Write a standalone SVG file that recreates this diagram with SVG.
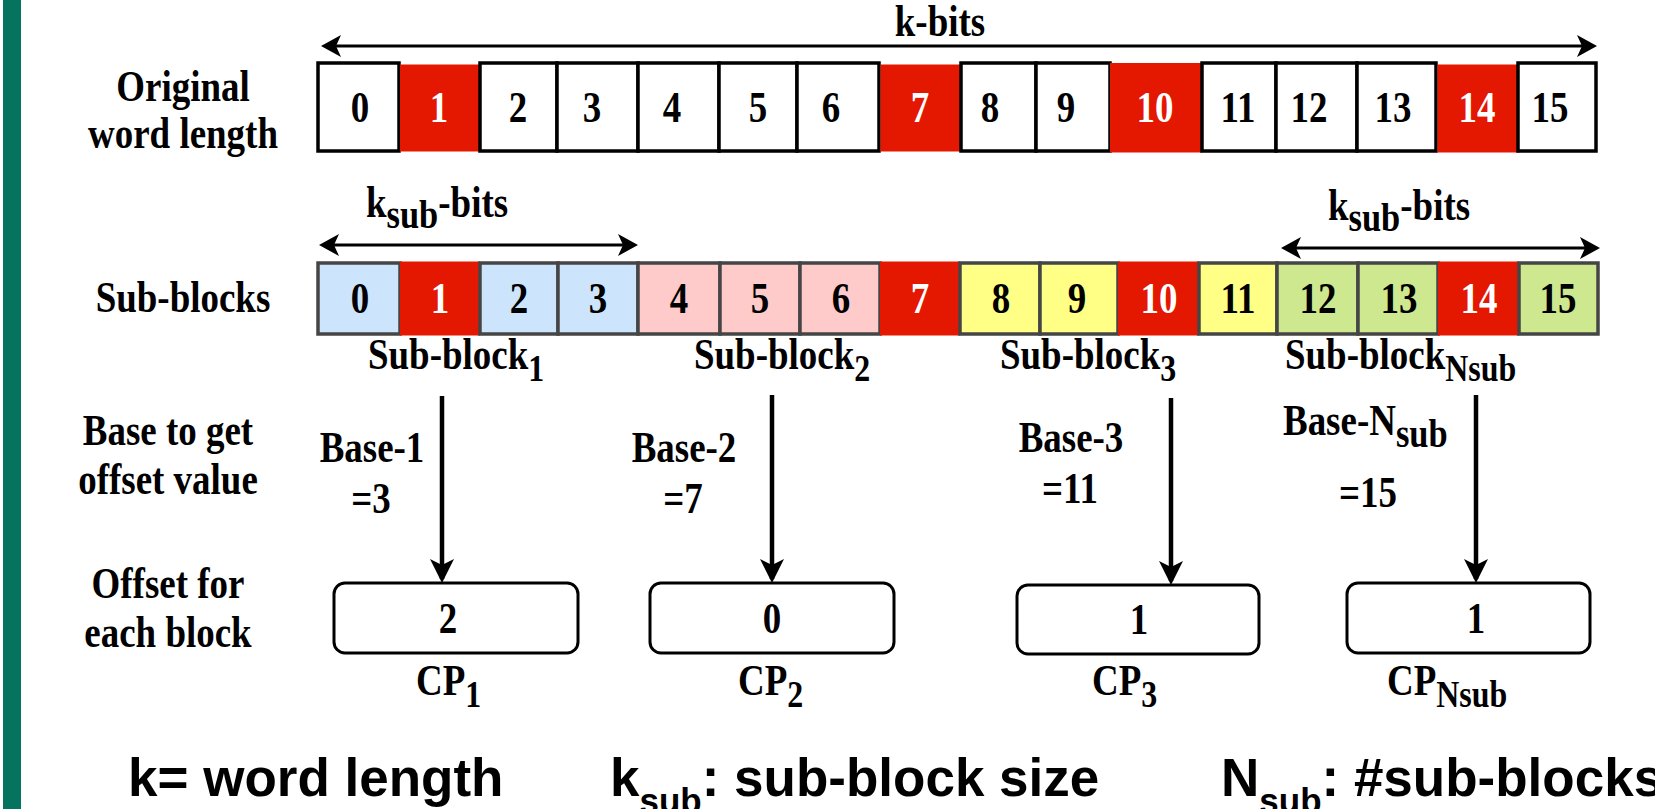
<svg xmlns="http://www.w3.org/2000/svg" width="1655" height="809" viewBox="0 0 1655 809">
  <style>
    .s { font-family: "Liberation Serif", "Times New Roman", serif; font-weight: bold; font-size: 44px; fill: #000; text-anchor: middle; }
    .l { text-anchor: start; }
    .w { fill: #fff; }
    .sub { font-size: 38px; }
    .subl { font-size: 41px; }
    .lg { font-family: "Liberation Sans", Arial, sans-serif; font-weight: bold; font-size: 53px; fill: #000; }
    .lgs { font-size: 35px; }
    .wc { fill: #fff; stroke: #000; stroke-width: 3.5; }
    .red { fill: #e41700; }
    .sc { stroke: #454545; stroke-width: 3.5; }
    .blue { fill: #cce4fc; }
    .pink { fill: #ffcaca; }
    .yel { fill: #ffff85; }
    .grn { fill: #cde88e; }
    .cp { fill: #fff; stroke: #000; stroke-width: 3; }
    .h { stroke: #000; stroke-width: 3; fill: none; }
    .v { stroke: #000; stroke-width: 4.5; fill: none; }
  </style>
  <defs>
    <marker id="ah" viewBox="0 0 20 22" refX="16" refY="11" markerWidth="20" markerHeight="22" markerUnits="userSpaceOnUse" orient="auto-start-reverse">
      <path d="M0,0 L20,11 L0,22 L5,11 Z" fill="#000"/>
    </marker>
    <marker id="av" viewBox="0 0 24 24" refX="20" refY="12" markerWidth="24" markerHeight="24" markerUnits="userSpaceOnUse" orient="auto">
      <path d="M0,0 L24,12 L0,24 L6,12 Z" fill="#000"/>
    </marker>
  </defs>

  <rect width="1655" height="809" fill="#fff"/>
  <!-- side bar -->
  <rect x="3" y="0" width="18" height="809" fill="#06735e"/>

  <!-- row labels -->
  <g id="row-labels">
    <text class="s" transform="translate(183 101) scale(.84 1)">Original</text>
    <text class="s" transform="translate(183 148) scale(.84 1)">word length</text>
    <text class="s" transform="translate(183 312) scale(.84 1)">Sub-blocks</text>
    <text class="s" transform="translate(168 445) scale(.84 1)">Base to get</text>
    <text class="s" transform="translate(168 494) scale(.84 1)">offset value</text>
    <text class="s" transform="translate(168 598) scale(.84 1)">Offset for</text>
    <text class="s" transform="translate(168 647) scale(.84 1)">each block</text>
  </g>

  <!-- original word: 16 bits -->
  <g id="word">
    <g id="w0"><rect class="wc" x="318" y="63" width="81" height="88"/><text class="s" transform="translate(360 122) scale(.84 1)">0</text></g>
    <g id="w1"><rect class="red" x="400" y="64.5" width="81.5" height="87"/><text class="s w" transform="translate(439 122) scale(.84 1)">1</text></g>
    <g id="w2"><rect class="wc" x="480" y="63" width="77" height="88"/><text class="s" transform="translate(518 122) scale(.84 1)">2</text></g>
    <g id="w3"><rect class="wc" x="557" y="63" width="81" height="88"/><text class="s" transform="translate(592 122) scale(.84 1)">3</text></g>
    <g id="w4"><rect class="wc" x="638" y="63" width="81" height="88"/><text class="s" transform="translate(672 122) scale(.84 1)">4</text></g>
    <g id="w5"><rect class="wc" x="719" y="63" width="78" height="88"/><text class="s" transform="translate(758 122) scale(.84 1)">5</text></g>
    <g id="w6"><rect class="wc" x="797" y="63" width="82" height="88"/><text class="s" transform="translate(831 122) scale(.84 1)">6</text></g>
    <g id="w7"><rect class="red" x="880.5" y="64.5" width="82" height="87"/><text class="s w" transform="translate(920 122) scale(.84 1)">7</text></g>
    <g id="w8"><rect class="wc" x="961" y="63" width="75" height="88"/><text class="s" transform="translate(990 122) scale(.84 1)">8</text></g>
    <g id="w9"><rect class="wc" x="1036" y="63" width="74" height="88"/><text class="s" transform="translate(1066 122) scale(.84 1)">9</text></g>
    <g id="w10"><rect class="red" x="1110" y="63" width="92" height="89.5"/><text class="s w" transform="translate(1155 122) scale(.84 1)">10</text></g>
    <g id="w11"><rect class="wc" x="1202" y="63" width="74" height="88"/><text class="s" transform="translate(1238 122) scale(.84 1)">11</text></g>
    <g id="w12"><rect class="wc" x="1276" y="63" width="81" height="88"/><text class="s" transform="translate(1309 122) scale(.84 1)">12</text></g>
    <g id="w13"><rect class="wc" x="1357" y="63" width="79" height="88"/><text class="s" transform="translate(1393 122) scale(.84 1)">13</text></g>
    <g id="w14"><rect class="red" x="1437.5" y="64.5" width="82" height="88"/><text class="s w" transform="translate(1477 122) scale(.84 1)">14</text></g>
    <g id="w15"><rect class="wc" x="1518" y="63" width="78" height="88"/><text class="s" transform="translate(1550 122) scale(.84 1)">15</text></g>
  </g>

  <!-- sub-blocks row -->
  <g id="subrow">
    <g id="s0"><rect class="sc blue" x="318" y="263" width="82" height="71"/><text class="s" transform="translate(360 313) scale(.84 1)">0</text></g>
    <g id="s1"><rect class="red" x="400" y="261.5" width="80" height="74"/><text class="s w" transform="translate(440 313) scale(.84 1)">1</text></g>
    <g id="s2"><rect class="sc blue" x="480" y="263" width="78" height="71"/><text class="s" transform="translate(519 313) scale(.84 1)">2</text></g>
    <g id="s3"><rect class="sc blue" x="558" y="263" width="80" height="71"/><text class="s" transform="translate(598 313) scale(.84 1)">3</text></g>
    <g id="s4"><rect class="sc pink" x="638" y="263" width="82" height="71"/><text class="s" transform="translate(679 313) scale(.84 1)">4</text></g>
    <g id="s5"><rect class="sc pink" x="720" y="263" width="80" height="71"/><text class="s" transform="translate(760 313) scale(.84 1)">5</text></g>
    <g id="s6"><rect class="sc pink" x="800" y="263" width="80" height="71"/><text class="s" transform="translate(841 313) scale(.84 1)">6</text></g>
    <g id="s7"><rect class="red" x="880" y="261.5" width="80" height="74"/><text class="s w" transform="translate(920 313) scale(.84 1)">7</text></g>
    <g id="s8"><rect class="sc yel" x="960" y="263" width="80" height="71"/><text class="s" transform="translate(1001 313) scale(.84 1)">8</text></g>
    <g id="s9"><rect class="sc yel" x="1040" y="263" width="78" height="71"/><text class="s" transform="translate(1077 313) scale(.84 1)">9</text></g>
    <g id="s10"><rect class="red" x="1118" y="261.5" width="81" height="74"/><text class="s w" transform="translate(1159 313) scale(.84 1)">10</text></g>
    <g id="s11"><rect class="sc yel" x="1199" y="263" width="78" height="71"/><text class="s" transform="translate(1238 313) scale(.84 1)">11</text></g>
    <g id="s12"><rect class="sc grn" x="1277" y="263" width="81" height="71"/><text class="s" transform="translate(1318 313) scale(.84 1)">12</text></g>
    <g id="s13"><rect class="sc grn" x="1358" y="263" width="80" height="71"/><text class="s" transform="translate(1399 313) scale(.84 1)">13</text></g>
    <g id="s14"><rect class="red" x="1438" y="261.5" width="81" height="74"/><text class="s w" transform="translate(1479 313) scale(.84 1)">14</text></g>
    <g id="s15"><rect class="sc grn" x="1519" y="263" width="79" height="71"/><text class="s" transform="translate(1558 313) scale(.84 1)">15</text></g>
  </g>

  <!-- span labels -->
  <g id="span-labels">
    <text class="s" transform="translate(940 36) scale(.84 1)">k-bits</text>
    <text class="s l" transform="translate(366 217) scale(.84 1)">k<tspan class="subl" dy="11">sub</tspan><tspan dy="-11">-bits</tspan></text>
    <text class="s l" transform="translate(1328 220) scale(.84 1)">k<tspan class="subl" dy="11">sub</tspan><tspan dy="-11">-bits</tspan></text>
  </g>

  <!-- sub-block names -->
  <g id="block-names">
    <text class="s l" transform="translate(368 369) scale(.84 1)">Sub-block<tspan class="sub" dy="12">1</tspan></text>
    <text class="s l" transform="translate(694 369) scale(.84 1)">Sub-block<tspan class="sub" dy="12">2</tspan></text>
    <text class="s l" transform="translate(1000 369) scale(.84 1)">Sub-block<tspan class="sub" dy="12">3</tspan></text>
    <text class="s l" transform="translate(1285 369) scale(.84 1)">Sub-block<tspan class="sub" dy="12">Nsub</tspan></text>
  </g>

  <!-- base labels -->
  <g id="bases">
    <text class="s" transform="translate(372 462) scale(.84 1)">Base-1</text>
    <text class="s" transform="translate(371 513) scale(.84 1)">=3</text>
    <text class="s" transform="translate(684 462) scale(.84 1)">Base-2</text>
    <text class="s" transform="translate(683 513) scale(.84 1)">=7</text>
    <text class="s" transform="translate(1071 452) scale(.84 1)">Base-3</text>
    <text class="s" transform="translate(1070 503) scale(.84 1)">=11</text>
    <text class="s l" transform="translate(1283 435) scale(.84 1)">Base-N<tspan class="subl" dy="12">sub</tspan></text>
    <text class="s" transform="translate(1368 507) scale(.84 1)">=15</text>
  </g>

  <!-- offset boxes -->
  <g id="cp1">
    <rect class="cp" x="334" y="583" width="244" height="70" rx="11"/>
    <text class="s" transform="translate(448 633) scale(.84 1)">2</text>
    <text class="s l" transform="translate(416 695) scale(.84 1)">CP<tspan class="sub" dy="12">1</tspan></text>
  </g>
  <g id="cp2">
    <rect class="cp" x="650" y="583" width="244" height="70" rx="11"/>
    <text class="s" transform="translate(772 633) scale(.84 1)">0</text>
    <text class="s l" transform="translate(738 695) scale(.84 1)">CP<tspan class="sub" dy="12">2</tspan></text>
  </g>
  <g id="cp3">
    <rect class="cp" x="1017" y="585" width="242" height="69" rx="11"/>
    <text class="s" transform="translate(1139 634) scale(.84 1)">1</text>
    <text class="s l" transform="translate(1092 695) scale(.84 1)">CP<tspan class="sub" dy="12">3</tspan></text>
  </g>
  <g id="cpN">
    <rect class="cp" x="1347" y="583" width="243" height="70" rx="11"/>
    <text class="s" transform="translate(1476 633) scale(.84 1)">1</text>
    <text class="s l" transform="translate(1387 695) scale(.84 1)">CP<tspan class="sub" dy="12">Nsub</tspan></text>
  </g>

  <!-- arrows -->
  <g id="connectors">
    <line class="h" x1="325" y1="46" x2="1593" y2="46" marker-start="url(#ah)" marker-end="url(#ah)"/>
    <line class="h" x1="323" y1="245" x2="634" y2="245" marker-start="url(#ah)" marker-end="url(#ah)"/>
    <line class="h" x1="1285" y1="248" x2="1596" y2="248" marker-start="url(#ah)" marker-end="url(#ah)"/>
    <line class="v" x1="442" y1="396" x2="442" y2="579" marker-end="url(#av)"/>
    <line class="v" x1="772" y1="395" x2="772" y2="579" marker-end="url(#av)"/>
    <line class="v" x1="1171" y1="398" x2="1171" y2="581" marker-end="url(#av)"/>
    <line class="v" x1="1476" y1="395" x2="1476" y2="579" marker-end="url(#av)"/>
  </g>

  <!-- legend -->
  <g id="legend">
    <text class="lg" x="128" y="796">k= word length</text>
    <text class="lg" x="610" y="796">k<tspan class="lgs" dy="17">sub</tspan><tspan dy="-17">: sub-block size</tspan></text>
    <text class="lg" x="1221" y="796">N<tspan class="lgs" dy="17">sub</tspan><tspan dy="-17">: #sub-blocks</tspan></text>
  </g>
</svg>
